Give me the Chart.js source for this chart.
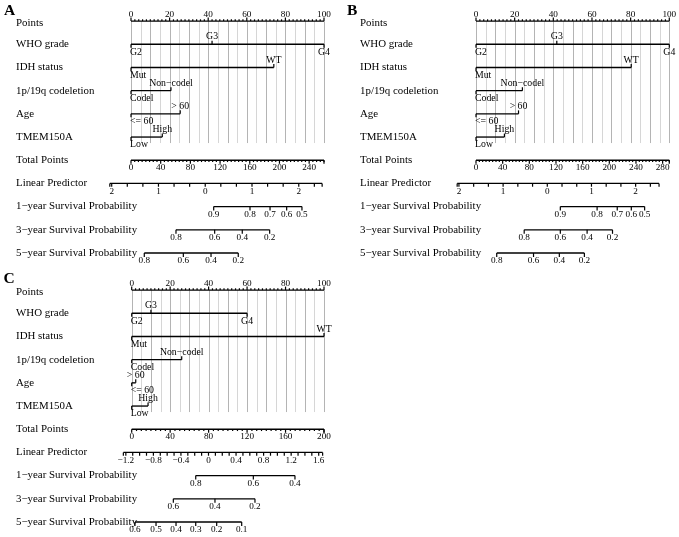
<!DOCTYPE html>
<html><head><meta charset="utf-8">
<script src="https://cdn.jsdelivr.net/npm/chart.js@4.4.1/dist/chart.umd.min.js"></script>
<style>
html,body{margin:0;padding:0;background:#fff;width:679px;height:537px;overflow:hidden}
canvas{position:absolute}
</style></head><body>
<canvas id="cA" width="340" height="270" style="left:0;top:0"></canvas>
<canvas id="cB" width="339" height="270" style="left:340px;top:0"></canvas>
<canvas id="cC" width="340" height="268" style="left:0;top:269px"></canvas>
<script>
// ---------- DATA ----------
const rowTitles = ["Points","WHO grade","IDH status","1p/19q codeletion","Age","TMEM150A","Total Points","Linear Predictor","1\u2212year Survival Probability","3\u2212year Survival Probability","5\u2212year Survival Probability"];
const whoLevels = ["G2","G3","G4"];
const idhLevels = ["Mut","WT"];
const codelLevels = ["Codel","Non\u2212codel"];
const ageLevels = ["<= 60","> 60"];
const tmemLevels = ["Low","High"];
const pointsTicks = [0,20,40,60,80,100];

// Panel A
const whoPtsA = [0,42,100];
const idhPtsA = [0,74];
const codelPtsA = [0,20.7];
const agePtsA = [0,25.5];
const tmemPtsA = [0,16.2];
const totalMaxA = 260;
const totalTicksA = [0,40,80,120,160,200,240];
const lpTicksA = [-2,-1,0,1,2];
const lpLabelsA = ["2","1","0","1","2"];
const lpAnchorValA = [-2,2];
const lpAnchorTotA = [-26,226];
const lpRangeA = [-2.04,2.5];
const surv1LabA = ["0.9","0.8","0.7","0.6","0.5"];
const surv1TotA = [111.4,160.3,187.3,209.7,230.3];
const surv3LabA = ["0.8","0.6","0.4","0.2"];
const surv3TotA = [60.6,112.7,149.9,186.8];
const surv5LabA = ["0.8","0.6","0.4","0.2"];
const surv5TotA = [17.9,70.5,107.8,144.5];

// Panel B
const whoPtsB = [0,41.8,100];
const idhPtsB = [0,80.3];
const codelPtsB = [0,24];
const agePtsB = [0,22];
const tmemPtsB = [0,14.7];
const totalMaxB = 290;
const totalTicksB = [0,40,80,120,160,200,240,280];
const lpTicksB = [-2,-1,0,1,2];
const lpLabelsB = ["2","1","0","1","2"];
const lpAnchorValB = [-2,2];
const lpAnchorTotB = [-25.6,239.5];
const lpRangeB = [-2.04,2.53];
const surv1LabB = ["0.9","0.8","0.7","0.6","0.5"];
const surv1TotB = [126.5,181.7,211.9,233,253];
const surv3LabB = ["0.8","0.6","0.4","0.2"];
const surv3TotB = [72.3,126.5,166.7,204.8];
const surv5LabB = ["0.8","0.6","0.4","0.2"];
const surv5TotB = [31.1,86.3,125,162.6];

// Panel C
const whoPtsC = [0,10,60];
const idhPtsC = [0,100];
const codelPtsC = [0,26];
const agePtsC = [0,2.1];
const tmemPtsC = [0,8.5];
const totalMaxC = 200;
const totalTicksC = [0,40,80,120,160,200];
const lpTicksC = [-1.2,-0.8,-0.4,0,0.4,0.8,1.2,1.6];
const lpLabelsC = ["\u22121.2","\u22120.8","\u22120.4","0","0.4","0.8","1.2","1.6"];
const lpAnchorValC = [-1.2,1.6];
const lpAnchorTotC = [-6.1,194.5];
const lpRangeC = [-1.236,1.657];
const surv1LabC = ["0.8","0.6","0.4"];
const surv1TotC = [66.6,126.5,169.8];
const surv3LabC = ["0.6","0.4","0.2"];
const surv3TotC = [43.3,86.6,128.2];
const surv5LabC = ["0.6","0.5","0.4","0.3","0.2","0.1"];
const surv5TotC = [3.4,25.3,46.1,66.6,88.4,114.4];

// ---------- BUILD ----------
const SERIF = '"Liberation Serif","DejaVu Serif",serif';
const FT_TITLE = '10.9px ' + SERIF, FT_CAT = '9.8px ' + SERIF, FT_NUM = '9.2px ' + SERIF;

function panel(id, cfg){
  const toPts = t => t * 100 / cfg.totalMax;
  const lpToPts = v => toPts(cfg.lpTot[0] + (v - cfg.lpVal[0]) * (cfg.lpTot[1]-cfg.lpTot[0])/(cfg.lpVal[1]-cfg.lpVal[0]));
  const seg = (a,b,r) => ({data:[{x:a,y:r},{x:b,y:r}],borderColor:'#000',borderWidth:1.35,pointRadius:0,clip:false,fill:false});
  const ds = [seg(0,100,0)];
  cfg.cats.forEach((c,i)=>ds.push(seg(Math.min(...c.pts),Math.max(...c.pts),i+1)));
  ds.push(seg(0,100,6));
  ds.push(seg(lpToPts(cfg.lpRange[0]),lpToPts(cfg.lpRange[1]),7));
  cfg.surv.forEach((s,i)=>ds.push(seg(toPts(Math.min(...s.tot)),toPts(Math.max(...s.tot)),8+i)));

  const plug = {
    id:'nomo'+id,
    beforeDatasetsDraw(chart){
      const ctx=chart.ctx, xs=chart.scales.x, ys=chart.scales.y;
      const y0=ys.getPixelForValue(0), y1=ys.getPixelForValue(5)+6;
      ctx.save(); ctx.lineWidth=1;
      for(let p=0;p<=100;p+=5){
        const x=Math.round(xs.getPixelForValue(p))+0.5;
        ctx.strokeStyle = (p%10===0)?'#b4b4b4':'#d6d6d6';
        ctx.beginPath(); ctx.moveTo(x,y0); ctx.lineTo(x,y1); ctx.stroke();
      }
      ctx.restore();
    },
    afterDatasetsDraw(chart){
      const ctx=chart.ctx, xs=chart.scales.x, ys=chart.scales.y;
      const X=v=>xs.getPixelForValue(v), Y=r=>ys.getPixelForValue(r);
      ctx.save();
      ctx.fillStyle='#000'; ctx.strokeStyle='#000'; ctx.lineWidth=1.2;
      ctx.textBaseline='middle';
      const tick=(x,y,len)=>{ctx.beginPath();ctx.moveTo(x,y);ctx.lineTo(x,y+len);ctx.stroke();};
      const txt=(s,x,y,f,al)=>{ctx.font=f;ctx.textAlign=al||'center';ctx.fillText(s,x,y);};
      // panel letter
      txt(cfg.letter,cfg.letterX,cfg.letterY,'bold 15.5px '+SERIF,'left');
      // row titles
      rowTitles.forEach((t,i)=>txt(t,cfg.titleX,Y(i)+(i===0?2.5:0),FT_TITLE,'left'));
      // Points axis
      const yp=Y(0);
      for(let p=0;p<=100;p+=2){ tick(X(p),yp,(p%20===0)?-3.5:-1.8); }
      pointsTicks.forEach(p=>txt(String(p),X(p),yp-6.8,FT_NUM));
      // categorical rows
      cfg.cats.forEach((c,i)=>{
        const y=Y(i+1);
        c.pts.forEach((p,j)=>{
          const up = (j%2===1);
          tick(X(p),y,up?-3.5:3.5);
          const ly = up? y-7.5 : y+7.8;
          if(j===0) txt(c.levels[j],X(p)-1,ly,FT_CAT,'left');
          else txt(c.levels[j],X(p),ly,FT_CAT,'center');
        });
      });
      // total points
      const yt=Y(6);
      for(let t=0;t<=cfg.totalMax+0.001;t+=5){ tick(X(toPts(t)),yt,(t%40===0)?3.5:1.8); }
      tick(X(100),yt,3.5);
      cfg.totalTicks.forEach(t=>txt(String(t),X(toPts(t)),yt+7.2,FT_NUM));
      // linear predictor
      const yl=Y(7);
      const f0=cfg.lpTicks[0], st=cfg.lpMinor;
      for(let k=Math.ceil((cfg.lpRange[0]-f0)/st-1e-6);k<=Math.floor((cfg.lpRange[1]-f0)/st+1e-6);k++){
        tick(X(lpToPts(f0+k*st)),yl,3.3);
      }
      tick(X(lpToPts(cfg.lpRange[0])),yl,3.3);
      tick(X(lpToPts(cfg.lpRange[1])),yl,3.3);
      cfg.lpTicks.forEach((v,i)=>txt(cfg.lpLabels[i],X(lpToPts(v)),yl+8.4,FT_NUM));
      // survival
      cfg.surv.forEach((s,i)=>{
        const y=Y(8+i);
        s.tot.forEach((t,j)=>{ tick(X(toPts(t)),y,4); txt(s.lab[j],X(toPts(t)),y+7.8,FT_NUM); });
      });
      ctx.restore();
    }
  };

  return new Chart(document.getElementById(id),{
    type:'line',
    data:{datasets:ds},
    options:{
      responsive:false, animation:false,
      layout:{padding:cfg.pad},
      plugins:{legend:{display:false},tooltip:{enabled:false}},
      scales:{
        x:{type:'linear',min:0,max:100,display:false},
        y:{type:'linear',min:0,max:10,reverse:true,display:false}
      }
    },
    plugins:[plug]
  });
}

panel('cA',{letter:'A',letterX:4,letterY:11,titleX:16,pad:{left:131,right:16,top:21.1,bottom:17},
  cats:[{levels:whoLevels,pts:whoPtsA},{levels:idhLevels,pts:idhPtsA},{levels:codelLevels,pts:codelPtsA},{levels:ageLevels,pts:agePtsA},{levels:tmemLevels,pts:tmemPtsA}],
  totalMax:totalMaxA,totalTicks:totalTicksA,lpTicks:lpTicksA,lpLabels:lpLabelsA,lpVal:lpAnchorValA,lpTot:lpAnchorTotA,lpRange:lpRangeA,lpMinor:1/3,
  surv:[{lab:surv1LabA,tot:surv1TotA},{lab:surv3LabA,tot:surv3TotA},{lab:surv5LabA,tot:surv5TotA}]});
panel('cB',{letter:'B',letterX:7,letterY:11,titleX:20,pad:{left:136,right:9.7,top:21.1,bottom:17},
  cats:[{levels:whoLevels,pts:whoPtsB},{levels:idhLevels,pts:idhPtsB},{levels:codelLevels,pts:codelPtsB},{levels:ageLevels,pts:agePtsB},{levels:tmemLevels,pts:tmemPtsB}],
  totalMax:totalMaxB,totalTicks:totalTicksB,lpTicks:lpTicksB,lpLabels:lpLabelsB,lpVal:lpAnchorValB,lpTot:lpAnchorTotB,lpRange:lpRangeB,lpMinor:1/3,
  surv:[{lab:surv1LabB,tot:surv1TotB},{lab:surv3LabB,tot:surv3TotB},{lab:surv5LabB,tot:surv5TotB}]});
panel('cC',{letter:'C',letterX:3.5,letterY:10,titleX:16,pad:{left:131.7,right:16,top:21.1,bottom:15},
  cats:[{levels:whoLevels,pts:whoPtsC},{levels:idhLevels,pts:idhPtsC},{levels:codelLevels,pts:codelPtsC},{levels:ageLevels,pts:agePtsC},{levels:tmemLevels,pts:tmemPtsC}],
  totalMax:totalMaxC,totalTicks:totalTicksC,lpTicks:lpTicksC,lpLabels:lpLabelsC,lpVal:lpAnchorValC,lpTot:lpAnchorTotC,lpRange:lpRangeC,lpMinor:0.1,
  surv:[{lab:surv1LabC,tot:surv1TotC},{lab:surv3LabC,tot:surv3TotC},{lab:surv5LabC,tot:surv5TotC}]});
</script>
</body></html>
